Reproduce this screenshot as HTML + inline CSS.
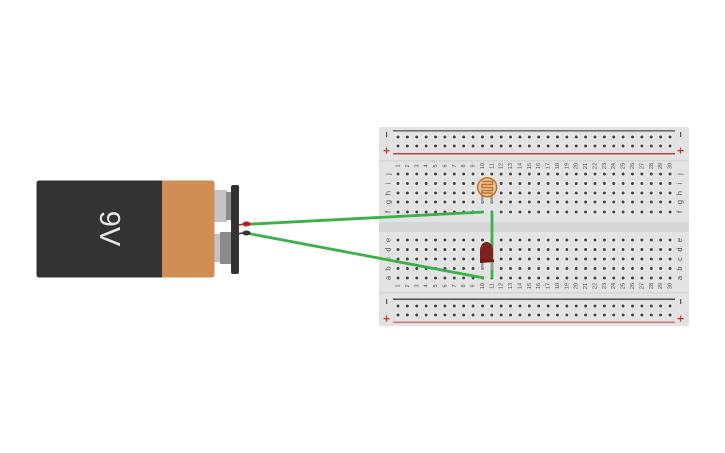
<!DOCTYPE html>
<html>
<head>
<meta charset="utf-8">
<style>
html,body{margin:0;padding:0;background:#fff;width:725px;height:453px;overflow:hidden}
svg{display:block}
text{font-family:"Liberation Sans",sans-serif}
.h{stroke:#444;stroke-width:3;stroke-linecap:round;stroke-dasharray:0 9.38}
.g{stroke:#f4f4f4;stroke-width:5.500;stroke-linecap:round;stroke-dasharray:0 9.38;opacity:.6}
.n text{font-size:5.500px;fill:#555;text-anchor:middle}
.l text{font-size:7.500px;fill:#555;text-anchor:middle}
</style>
</head>
<body>
<svg width="725" height="453" viewBox="0 0 725 453" xmlns="http://www.w3.org/2000/svg">
<rect width="725" height="453" fill="#fff"/>

<!-- breadboard -->
<rect x="379" y="127" width="310" height="199" rx="2" fill="#e3e3e3"/>
<rect x="379" y="160" width="310" height="1.500" fill="#d6d6d6"/>
<rect x="379" y="292" width="310" height="1.500" fill="#d6d6d6"/>
<rect x="379" y="222" width="310" height="10" fill="#d6d6d6"/>
<rect x="393" y="130" width="282" height="1.600" fill="#707070"/>
<rect x="393" y="153" width="282" height="1.400" fill="#b9393b"/>
<rect x="393" y="298.500" width="282" height="1.400" fill="#444"/>
<rect x="393" y="321.500" width="282" height="1.600" fill="#c97a7a"/>

<g class="g">
<path d="M398 137H672M398 146H672M398 174H672M398 183.500H672M398 193H672M398 202H672M398 212H672M398 240H672M398 249.500H672M398 259H672M398 268.500H672M398 278H672M398 306H672M398 315H672"/>
</g>
<g class="h">
<path d="M398 137H672M398 146H672M398 174H672M398 183.500H672M398 193H672M398 202H672M398 212H672M398 240H672M398 249.500H672M398 259H672M398 268.500H672M398 278H672M398 306H672M398 315H672"/>
</g>

<!-- rail signs -->
<g fill="#555">
<rect x="386" y="132" width="1.200" height="5"/><rect x="680" y="132" width="1.200" height="5"/>
<rect x="386" y="299" width="1.200" height="5"/><rect x="680" y="299" width="1.200" height="5"/>
</g>
<g fill="#d0363a">
<rect x="383.500" y="150" width="6" height="1.300"/><rect x="385.900" y="147.700" width="1.300" height="6"/>
<rect x="677.500" y="150" width="6" height="1.300"/><rect x="679.900" y="147.700" width="1.300" height="6"/>
<rect x="383.500" y="318" width="6" height="1.300"/><rect x="385.900" y="315.700" width="1.300" height="6"/>
<rect x="677.500" y="318" width="6" height="1.300"/><rect x="679.900" y="315.700" width="1.300" height="6"/>
</g>

<!-- numbers top -->
<g class="n">
<text transform="translate(399.500 166) rotate(-90)">1</text>
<text transform="translate(408.900 166) rotate(-90)">2</text>
<text transform="translate(418.300 166) rotate(-90)">3</text>
<text transform="translate(427.600 166) rotate(-90)">4</text>
<text transform="translate(437 166) rotate(-90)">5</text>
<text transform="translate(446.400 166) rotate(-90)">6</text>
<text transform="translate(455.800 166) rotate(-90)">7</text>
<text transform="translate(465.200 166) rotate(-90)">8</text>
<text transform="translate(474.500 166) rotate(-90)">9</text>
<text transform="translate(483.900 166) rotate(-90)">10</text>
<text transform="translate(493.300 166) rotate(-90)">11</text>
<text transform="translate(502.700 166) rotate(-90)">12</text>
<text transform="translate(512.100 166) rotate(-90)">13</text>
<text transform="translate(521.400 166) rotate(-90)">14</text>
<text transform="translate(530.800 166) rotate(-90)">15</text>
<text transform="translate(540.200 166) rotate(-90)">16</text>
<text transform="translate(549.600 166) rotate(-90)">17</text>
<text transform="translate(559 166) rotate(-90)">18</text>
<text transform="translate(568.300 166) rotate(-90)">19</text>
<text transform="translate(577.700 166) rotate(-90)">20</text>
<text transform="translate(587.100 166) rotate(-90)">21</text>
<text transform="translate(596.500 166) rotate(-90)">22</text>
<text transform="translate(605.900 166) rotate(-90)">23</text>
<text transform="translate(615.200 166) rotate(-90)">24</text>
<text transform="translate(624.600 166) rotate(-90)">25</text>
<text transform="translate(634 166) rotate(-90)">26</text>
<text transform="translate(643.400 166) rotate(-90)">27</text>
<text transform="translate(652.800 166) rotate(-90)">28</text>
<text transform="translate(662.100 166) rotate(-90)">29</text>
<text transform="translate(671.500 166) rotate(-90)">30</text>
</g>
<!-- numbers bottom -->
<g class="n">
<text transform="translate(399.500 286) rotate(-90)">1</text>
<text transform="translate(408.900 286) rotate(-90)">2</text>
<text transform="translate(418.300 286) rotate(-90)">3</text>
<text transform="translate(427.600 286) rotate(-90)">4</text>
<text transform="translate(437 286) rotate(-90)">5</text>
<text transform="translate(446.400 286) rotate(-90)">6</text>
<text transform="translate(455.800 286) rotate(-90)">7</text>
<text transform="translate(465.200 286) rotate(-90)">8</text>
<text transform="translate(474.500 286) rotate(-90)">9</text>
<text transform="translate(483.900 286) rotate(-90)">10</text>
<text transform="translate(493.300 286) rotate(-90)">11</text>
<text transform="translate(502.700 286) rotate(-90)">12</text>
<text transform="translate(512.100 286) rotate(-90)">13</text>
<text transform="translate(521.400 286) rotate(-90)">14</text>
<text transform="translate(530.800 286) rotate(-90)">15</text>
<text transform="translate(540.200 286) rotate(-90)">16</text>
<text transform="translate(549.600 286) rotate(-90)">17</text>
<text transform="translate(559 286) rotate(-90)">18</text>
<text transform="translate(568.300 286) rotate(-90)">19</text>
<text transform="translate(577.700 286) rotate(-90)">20</text>
<text transform="translate(587.100 286) rotate(-90)">21</text>
<text transform="translate(596.500 286) rotate(-90)">22</text>
<text transform="translate(605.900 286) rotate(-90)">23</text>
<text transform="translate(615.200 286) rotate(-90)">24</text>
<text transform="translate(624.600 286) rotate(-90)">25</text>
<text transform="translate(634 286) rotate(-90)">26</text>
<text transform="translate(643.400 286) rotate(-90)">27</text>
<text transform="translate(652.800 286) rotate(-90)">28</text>
<text transform="translate(662.100 286) rotate(-90)">29</text>
<text transform="translate(671.500 286) rotate(-90)">30</text>
</g>
<!-- letters -->
<g class="l">
<text transform="translate(390.500 174) rotate(-90)">j</text>
<text transform="translate(390.500 183.500) rotate(-90)">i</text>
<text transform="translate(390.500 193) rotate(-90)">h</text>
<text transform="translate(390.500 202) rotate(-90)">g</text>
<text transform="translate(390.500 212) rotate(-90)">f</text>
<text transform="translate(390.500 240) rotate(-90)">e</text>
<text transform="translate(390.500 249.500) rotate(-90)">d</text>
<text transform="translate(390.500 259) rotate(-90)">c</text>
<text transform="translate(390.500 268.500) rotate(-90)">b</text>
<text transform="translate(390.500 278) rotate(-90)">a</text>
<text transform="translate(682 174) rotate(-90)">j</text>
<text transform="translate(682 183.500) rotate(-90)">i</text>
<text transform="translate(682 193) rotate(-90)">h</text>
<text transform="translate(682 202) rotate(-90)">g</text>
<text transform="translate(682 212) rotate(-90)">f</text>
<text transform="translate(682 240) rotate(-90)">e</text>
<text transform="translate(682 249.500) rotate(-90)">d</text>
<text transform="translate(682 259) rotate(-90)">c</text>
<text transform="translate(682 268.500) rotate(-90)">b</text>
<text transform="translate(682 278) rotate(-90)">a</text>
</g>

<!-- battery -->
<rect x="214" y="190" width="13" height="32" fill="#c4c4c4"/>
<rect x="226" y="192" width="5" height="28" fill="#8a8a8a"/>
<rect x="214" y="234" width="7" height="28" fill="#c4c4c4"/>
<rect x="220" y="232" width="11" height="32" fill="#8a8a8a"/>
<rect x="36.500" y="180.500" width="130" height="97" rx="2.500" fill="#333333"/>
<path d="M162 180.500H212a2.500 2.500 0 0 1 2.500 2.500V275a2.500 2.500 0 0 1-2.500 2.500H162Z" fill="#d18e54"/>
<rect x="231" y="185" width="8" height="89" rx="2" fill="#333333"/>
<text transform="translate(100 228.500) rotate(90)" font-size="29" fill="#e6e6e6" text-anchor="middle">9V</text>

<!-- leads -->
<path d="M239 225L244 224" stroke="#b52025" stroke-width="1.500"/>
<path d="M239 233.500L244 233" stroke="#333" stroke-width="1.500"/>

<!-- wires -->
<path d="M492 211V278.500" stroke="#3cb04a" stroke-width="2.800" fill="none"/>
<path d="M247 224.300L484 212" stroke="#3cb04a" stroke-width="2.800" fill="none"/>
<path d="M247 233.200L484 278" stroke="#3cb04a" stroke-width="2.800" fill="none"/>
<ellipse cx="246.500" cy="224" rx="4" ry="2.500" fill="#b52025"/>
<ellipse cx="246.500" cy="233" rx="4" ry="2.500" fill="#333"/>

<!-- LDR -->
<rect x="481" y="195" width="2.500" height="9" fill="#9b9b9b"/>
<rect x="490.500" y="195" width="2.500" height="9" fill="#9b9b9b"/>
<circle cx="487.200" cy="187.200" r="9.500" fill="#e0ca98" stroke="#c96f2d" stroke-width="1.500"/>
<path d="M482 181.500H492.500V184.500H482V187.500H492.500V190.500H482V193H492.500" fill="none" stroke="#c96f2d" stroke-width="1.500"/>

<!-- LED -->
<rect x="481" y="261" width="2.500" height="9" fill="#9b9b9b"/>
<rect x="490.500" y="261" width="2.500" height="9" fill="#9b9b9b"/>
<path d="M480 250a6.500 8 0 0 1 13 0V261.500L480 262.500Z" fill="#80201f"/>
<path d="M480 259.500H494V262L480 263Z" fill="#711a1a"/>
</svg>
</body>
</html>
